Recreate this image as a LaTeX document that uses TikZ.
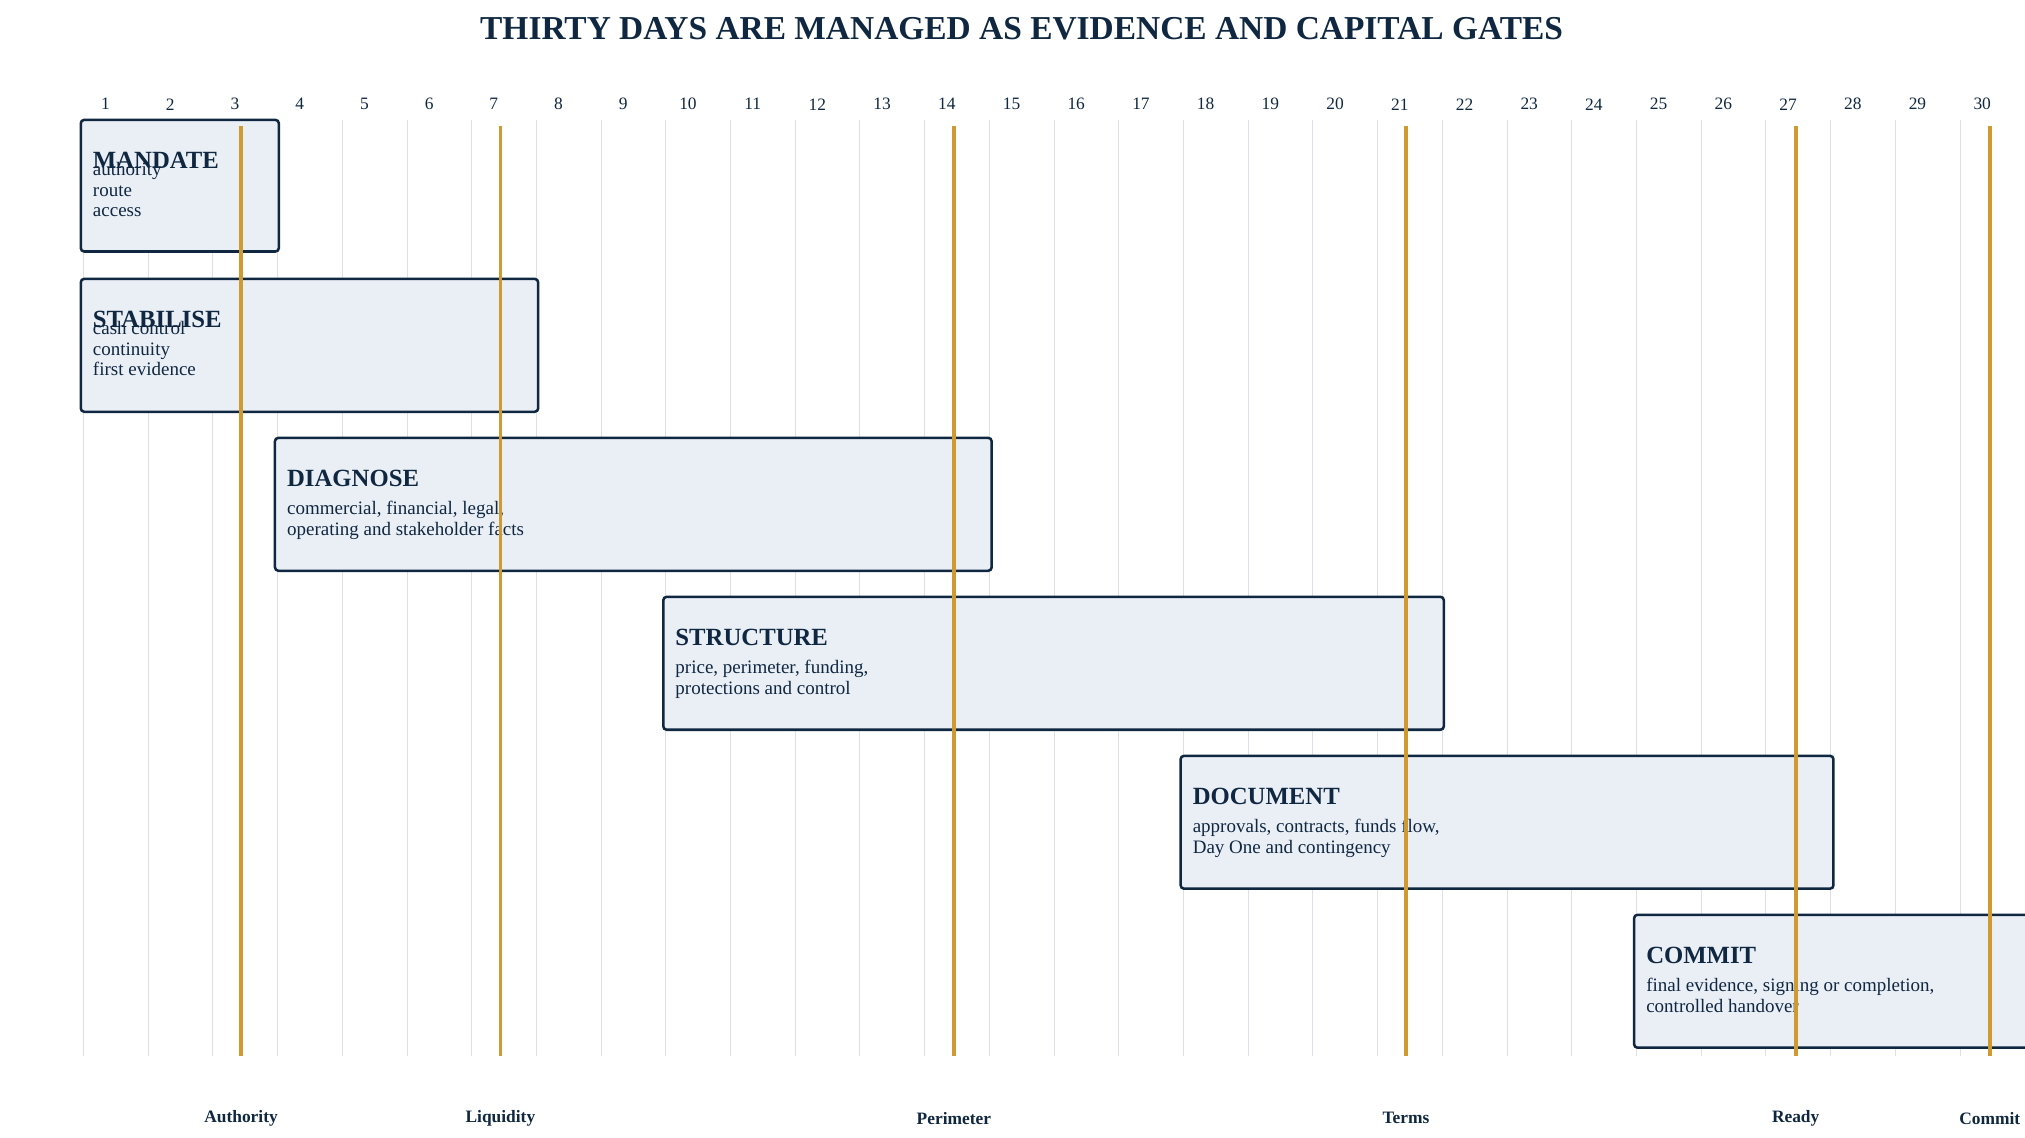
\documentclass[tikz,border=0pt]{standalone}
\usepackage{fontspec}
\setmainfont{Liberation Serif}
\usetikzlibrary{positioning}
\definecolor{ink}{HTML}{0F2740}
\definecolor{paper}{HTML}{EAEFF6}
\definecolor{gold}{HTML}{D09A30}
\definecolor{grid}{HTML}{DCE0EA}
\tikzset{
  phase/.style={draw=ink, fill=paper, line width=1.1pt, rounded corners=1.5pt},
  ptitle/.style={anchor=base west, inner sep=0pt, text=ink, font=\fontsize{10.8}{12}\selectfont\bfseries},
  pbody/.style={anchor=north west, inner sep=0pt, text=ink, align=left, font=\fontsize{8.3}{9.1}\selectfont},
  gate/.style={draw=gold, line width=1.6pt},
  glabel/.style={inner sep=0pt, text=ink, font=\fontsize{7.6}{8}\selectfont\bfseries},
  day/.style={inner sep=0pt, text=ink, font=\fontsize{7.6}{8}\selectfont}
}
\begin{document}
\begin{tikzpicture}[x=0.02cm, y=-0.02cm]
\useasboundingbox (0,0) rectangle (1554,873);
\clip (0,0) rectangle (1554,873);
% title
\node[text=ink, font=\fontsize{14.6}{16}\selectfont\bfseries] (title) at (784,22) {THIRTY DAYS ARE MANAGED AS EVIDENCE AND CAPITAL GATES};
% day columns
\foreach \d in {1,...,30} {
  \draw[grid, line width=0.4pt] ({64+(\d-1)*49.66},92) -- ({64+(\d-1)*49.66},810);
  \node[day] (d\d) at ({81+(\d-1)*49.66},80) {\d};
}
% phases
\draw[phase] (62,92) rectangle (214,193);
\node[ptitle] (mandate) at (71,129) {MANDATE};
\node[pbody] (mandatetx) at (71,124) {authority\\route\\access};
\draw[phase] (62,214) rectangle (413,316);
\node[ptitle] (stabilise) at (71,251) {STABILISE};
\node[pbody] (stabilisetx) at (71,246) {cash control\\continuity\\first evidence};
\draw[phase] (211,336) rectangle (761,438);
\node[ptitle] (diagnose) at (220,373) {DIAGNOSE};
\node[pbody] (diagnosetx) at (220,384) {commercial, financial, legal,\\operating and stakeholder facts};
\draw[phase] (509,458) rectangle (1108,560);
\node[ptitle] (structure) at (518,495) {STRUCTURE};
\node[pbody] (structuretx) at (518,506) {price, perimeter, funding,\\protections and control};
\draw[phase] (906,580) rectangle (1407,682);
\node[ptitle] (document) at (915,617) {DOCUMENT};
\node[pbody] (documenttx) at (915,628) {approvals, contracts, funds flow,\\Day One and contingency};
\draw[phase] (1254,702) rectangle (1600,804);
\node[ptitle] (commit) at (1263,739) {COMMIT};
\node[pbody] (committx) at (1263,750) {final evidence, signing or completion,\\controlled handover};
% gates
\foreach \x/\n/\t in {185/ga/Authority, 384/gl/Liquidity, 732/gp/Perimeter, 1079/gt/Terms, 1378/gr/Ready, 1527/gc/Commit} {
  \coordinate (\n top) at (\x,97);
  \coordinate (\n bot) at (\x,810);
  \draw[gate] (\n top) -- (\n bot);
  \node[glabel] (\n) at (\x,858) {\t};
}
\end{tikzpicture}
\end{document}
